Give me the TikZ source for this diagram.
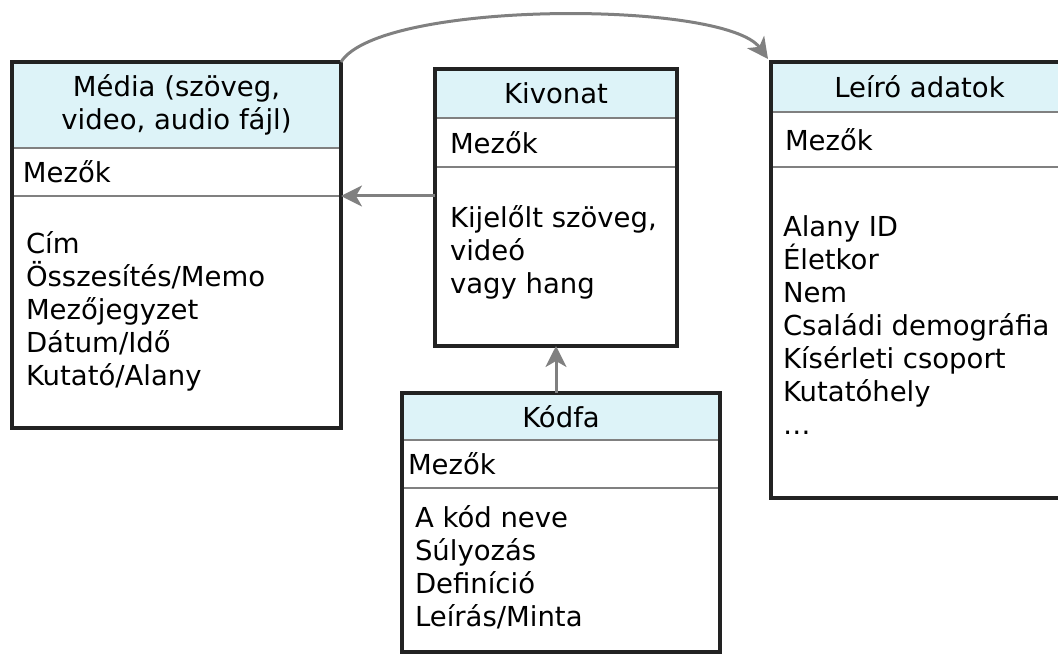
\documentclass[tikz,border=0pt]{standalone}
\usepackage{fontspec}
\setmainfont{DejaVu Sans}
\usetikzlibrary{arrows.meta}
\definecolor{hdrfill}{HTML}{DDF3F8}
\definecolor{frameline}{HTML}{222222}
\definecolor{sepline}{HTML}{808080}
\definecolor{arrgray}{HTML}{808080}
\begin{document}
\begin{tikzpicture}[x=1pt,y=-1pt,
  every node/.style={font=\fontsize{27.5}{33}\selectfont, inner sep=0pt, outer sep=0pt},
  hdr/.style={fill=hdrfill, anchor=north west, align=center},
  fldbox/.style={anchor=north west},
  txt/.style={anchor=north west, align=left},
  lbl/.style={anchor=west},
  frame/.style={draw=frameline, line width=3.2pt, anchor=north west},
  sep/.style={draw=sepline, line width=2.5pt},
  link/.style={draw=arrgray, line width=3pt, -{Stealth[length=21pt,width=21pt,inset=6pt]}}]
\useasboundingbox (0,0) rectangle (1058,655);

% --- Média ---
\node[hdr, minimum width=329pt, minimum height=86pt] (medh) at (12,62) {Média (szöveg,\\video, audio fájl)};
\node[fldbox, minimum width=329pt, minimum height=48pt] (medf) at (medh.south west) {};
\node[lbl] (medfl) at ([xshift=11pt]medf.west) {Mezők};
\draw[sep] (medh.south west) -- (medh.south east);
\draw[sep] (medf.south west) -- (medf.south east);
\node[txt] (medb) at (26,232) {Cím\\Összesítés/Memo\\Mezőjegyzet\\Dátum/Idő\\Kutató/Alany};
\node[frame, minimum width=329pt, minimum height=366pt] (media) at (12,62) {};

% --- Kivonat ---
\node[hdr, minimum width=242pt, minimum height=49pt] (kivh) at (435,69) {Kivonat};
\node[fldbox, minimum width=242pt, minimum height=49pt] (kivf) at (kivh.south west) {};
\node[lbl] (kivfl) at ([xshift=15pt]kivf.west) {Mezők};
\draw[sep] (kivh.south west) -- (kivh.south east);
\draw[sep] (kivf.south west) -- (kivf.south east);
\node[txt] (kivb) at (450,206) {Kijelőlt szöveg,\\videó\\vagy hang};
\node[frame, minimum width=242pt, minimum height=277pt] (kiv) at (435,69) {};

% --- Kódfa ---
\node[hdr, minimum width=318pt, minimum height=47pt] (kodh) at (402,393) {Kódfa};
\node[fldbox, minimum width=318pt, minimum height=48pt] (kodf) at (kodh.south west) {};
\node[lbl] (kodfl) at ([xshift=6pt]kodf.west) {Mezők};
\draw[sep] (kodh.south west) -- (kodh.south east);
\draw[sep] (kodf.south west) -- (kodf.south east);
\node[txt] (kodb) at (415,506) {A kód neve\\Súlyozás\\Definíció\\Leírás/Minta};
\node[frame, minimum width=318pt, minimum height=259pt] (kod) at (402,393) {};

% --- Leíró adatok ---
\node[hdr, minimum width=297pt, minimum height=50pt] (leih) at (771,62) {Leíró adatok};
\node[fldbox, minimum width=297pt, minimum height=55pt] (leif) at (leih.south west) {};
\node[lbl] (leifl) at ([xshift=14pt]leif.west) {Mezők};
\draw[sep] (leih.south west) -- (leih.south east);
\draw[sep] (leif.south west) -- (leif.south east);
\node[txt] (leib) at (783,216) {Alany ID\\Életkor\\Nem\\Családi demográfia\\Kísérleti csoport\\Kutatóhely\\\dots};
\node[frame, minimum width=297pt, minimum height=436pt] (leiro) at (771,62) {};

% --- connectors ---
\draw[link] (kiv.west |- medf.south) -- (medf.south east);
\draw[link] (kod.north -| kiv.south) -- (kiv.south);
\draw[link] (media.north east) .. controls (380,0) and (725,0) .. ([xshift=-3pt,yshift=3pt]leiro.north west);
\end{tikzpicture}
\end{document}
